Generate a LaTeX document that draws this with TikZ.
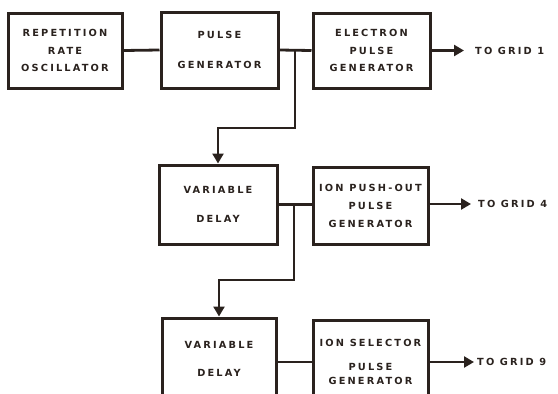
\documentclass[tikz,border=0pt]{standalone}
\usepackage{fontspec}
\newfontfamily\lbl[LetterSpace=22,UprightFont={* Bold}]{DejaVu Sans}
\usetikzlibrary{arrows.meta}
\definecolor{ink}{RGB}{42,34,30}
\begin{document}
\begin{tikzpicture}[x=1pt,y=-1pt,
  blk/.style={draw=ink, line width=3pt, align=center, inner sep=0pt, text=ink,
    font=\lbl\fontsize{9.8}{10.6}\selectfont},
  wire/.style={draw=ink, line width=2.8pt},
  arr/.style={wire, -{Triangle[length=10pt,width=11pt]}},
  outtext/.style={anchor=west, inner sep=0pt, font=\lbl\fontsize{9.8}{10.6}\selectfont, text=ink}]
\useasboundingbox (0,0) rectangle (558,394);
\clip (0,0) rectangle (558,394);
\node[blk, minimum width=114pt, minimum height=75pt] (b1) at (65,50.5) {REPETITION\\[7pt]RATE\\[7pt]OSCILLATOR};
\node[blk, minimum width=117pt, minimum height=76pt] (b2) at (219.5,50) {PULSE\\[20pt]GENERATOR};
\node[blk, minimum width=117pt, minimum height=75pt] (b3) at (371.5,50.5) {ELECTRON\\[7pt]PULSE\\[7pt]GENERATOR};
\node[blk, minimum width=118pt, minimum height=79pt] (b4) at (218,204.5) {VARIABLE\\[18pt]DELAY};
\node[blk, minimum width=115pt, minimum height=77pt] (b5) at (370.5,206) {ION PUSH-OUT\\[7pt]PULSE\\[7pt]GENERATOR};
\node[blk, minimum width=114pt, minimum height=82pt] (b6) at (219,359) {VARIABLE\\[17pt]DELAY};
\node[blk, minimum width=115pt, minimum height=84pt] (b7) at (370.5,362) {ION SELECTOR\\[13pt]PULSE\\[4pt]GENERATOR};
\draw[wire] (b1.east) -- (b2.west);
\draw[wire] (b2.east) -- (b3.west);
\draw[wire] (b4.east) -- (b5.west |- b4.east);
\draw[wire] (b6.east |- b7.west) -- (b7.west);
\coordinate (j1) at (295,50);
\coordinate (k1) at (295,128);
\coordinate (m1) at (218,128);
\draw[arr] (j1) -- (k1) -- (m1) -- (b4.north);
\coordinate (j2) at (294,204.5);
\coordinate (k2) at (294,280);
\coordinate (m2) at (219,280);
\draw[arr] (j2) -- (k2) -- (m2) -- (b6.north);
\coordinate (e1) at (464,50.5);
\coordinate (e2) at (471,204);
\coordinate (e3) at (474,362);
\draw[arr] (b3.east) -- (e1);
\draw[arr] (b5.east |- e2) -- (e2);
\draw[arr] (b7.east) -- (e3);
\node[outtext] (g1) at (475,50.5) {TO GRID 1};
\node[outtext] (g2) at (478,204) {TO GRID 4};
\node[outtext] (g3) at (477,362) {TO GRID 9};
\end{tikzpicture}
\end{document}
